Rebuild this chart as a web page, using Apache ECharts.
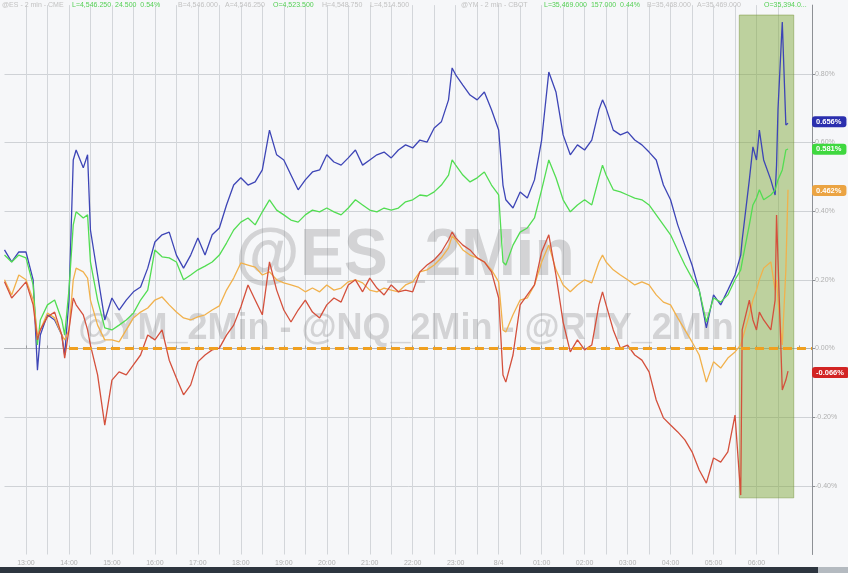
<!DOCTYPE html>
<html>
<head>
<meta charset="utf-8">
<script src="https://cdn.jsdelivr.net/npm/echarts@6/dist/echarts.min.js"></script>
<style>
html,body{margin:0;padding:0;background:#f6f7f9;}
#chart{width:848px;height:573px;}
</style>
</head>
<body>
<div id="chart"></div>
<script>
// minutes after 12:00 on 8/3
const times = [30,40,50,60,70,76,80,90,100,110,
114,120,126,130,140,146,150,160,170,180,
190,200,210,220,230,240,250,260,270,280,
290,300,310,320,330,340,350,360,370,380,
390,400,410,420,430,440,450,460,470,480,
490,500,510,520,530,540,550,560,570,580,
590,600,610,620,630,640,650,655,660,670,
680,690,700,710,720,726,730,740,750,760,
770,780,790,800,810,820,830,840,850,860,
865,870,880,890,900,910,920,930,940,950,
960,970,980,990,1000,1010,1020,1030,1040,1050,
1058,1060,1070,1075,1080,1084,1090,1100,1106,1108,
1110,1116,1121,1124];

const nqValues = [0.287,0.252,0.281,0.281,0.200,-0.063,0.039,0.098,0.083,0.039,
-0.019,0.141,0.549,0.578,0.526,0.564,0.345,0.214,0.083,0.147,
0.112,0.141,0.165,0.179,0.234,0.310,0.331,0.339,0.272,0.234,
0.272,0.322,0.272,0.331,0.351,0.418,0.476,0.497,0.476,0.485,
0.520,0.636,0.564,0.549,0.505,0.462,0.491,0.514,0.520,0.564,
0.543,0.534,0.555,0.578,0.534,0.549,0.564,0.572,0.555,0.578,
0.593,0.584,0.607,0.601,0.642,0.660,0.724,0.817,0.797,0.767,
0.738,0.724,0.747,0.695,0.636,0.476,0.433,0.409,0.456,0.438,
0.491,0.607,0.805,0.747,0.622,0.564,0.593,0.578,0.607,0.695,
0.724,0.700,0.636,0.622,0.631,0.607,0.593,0.572,0.549,0.476,
0.433,0.360,0.301,0.243,0.170,0.060,0.156,0.127,0.170,0.214,
0.272,0.316,0.491,0.587,0.549,0.636,0.549,0.491,0.447,0.534,
0.695,0.951,0.651,0.656];

const esValues = [0.272,0.252,0.272,0.264,0.185,0.010,0.083,0.127,0.141,0.083,
0.039,0.170,0.360,0.398,0.380,0.389,0.252,0.141,0.060,0.054,
0.068,0.083,0.103,0.141,0.170,0.287,0.267,0.264,0.252,0.200,
0.214,0.229,0.240,0.252,0.272,0.307,0.345,0.368,0.380,0.360,
0.398,0.433,0.403,0.389,0.374,0.368,0.389,0.403,0.398,0.409,
0.398,0.389,0.409,0.433,0.418,0.403,0.398,0.409,0.403,0.409,
0.427,0.433,0.447,0.444,0.456,0.476,0.505,0.549,0.534,0.505,
0.485,0.497,0.514,0.476,0.447,0.252,0.243,0.301,0.339,0.351,
0.380,0.462,0.549,0.497,0.433,0.398,0.418,0.433,0.418,0.497,
0.534,0.505,0.462,0.456,0.447,0.438,0.433,0.418,0.389,0.360,
0.331,0.287,0.243,0.205,0.170,0.077,0.147,0.135,0.156,0.200,
0.229,0.252,0.360,0.418,0.438,0.462,0.433,0.447,0.462,0.476,
0.491,0.520,0.578,0.581];

const ymValues = [0.200,0.156,0.214,0.200,0.141,0.039,0.054,0.103,0.089,0.039,
0.025,0.054,0.200,0.234,0.223,0.205,0.141,0.068,0.025,0.025,
0.019,0.054,0.089,0.106,0.118,0.141,0.150,0.127,0.106,0.089,
0.083,0.092,0.098,0.112,0.124,0.170,0.205,0.249,0.243,0.237,
0.214,0.223,0.200,0.191,0.185,0.179,0.165,0.176,0.165,0.185,
0.170,0.176,0.194,0.200,0.191,0.170,0.165,0.176,0.170,0.165,
0.185,0.194,0.223,0.229,0.243,0.264,0.293,0.328,0.316,0.287,
0.272,0.264,0.252,0.229,0.194,0.054,0.048,0.098,0.141,0.147,
0.185,0.252,0.301,0.229,0.185,0.165,0.185,0.200,0.191,0.252,
0.272,0.252,0.229,0.214,0.200,0.185,0.194,0.185,0.156,0.135,
0.127,0.089,0.054,0.019,-0.019,-0.098,-0.039,-0.057,-0.028,-0.010,
0.010,0.025,0.098,0.141,0.170,0.200,0.234,0.252,0.170,0.200,
0.141,0.010,0.229,0.462];

const rtyValues = [0.194,0.147,0.170,0.194,0.127,0.025,0.054,0.092,0.106,0.039,
-0.028,0.054,0.147,0.127,0.098,0.054,0.010,-0.077,-0.223,-0.092,
-0.068,-0.077,-0.048,-0.019,0.039,0.025,0.054,-0.034,-0.086,-0.135,
-0.106,-0.039,-0.019,-0.004,0.001,0.039,0.068,0.121,0.185,0.141,
0.098,0.252,0.170,0.112,0.077,0.112,0.141,0.106,0.089,0.127,
0.147,0.135,0.185,0.200,0.165,0.205,0.176,0.156,0.185,0.165,
0.170,0.165,0.223,0.243,0.258,0.281,0.316,0.339,0.322,0.301,
0.287,0.264,0.252,0.223,0.147,-0.077,-0.098,-0.019,0.127,0.156,
0.185,0.281,0.331,0.214,0.077,-0.010,0.025,-0.004,0.010,0.127,
0.165,0.127,0.054,0.001,0.010,-0.019,-0.034,-0.068,-0.150,-0.202,
-0.223,-0.243,-0.266,-0.301,-0.354,-0.392,-0.319,-0.331,-0.301,-0.194,
-0.427,0.054,0.141,0.083,0.054,0.106,0.083,0.054,0.141,0.389,
0.258,-0.121,-0.092,-0.066];

const zeroLineStart = 120;
const shadeRange = [1056, 1132];
const shadeValues = [0.971, -0.435];
const lastGridTime = 1110;

const chart = echarts.init(document.getElementById('chart'));

function mk(name, values, color, badge) {
  const last = values[values.length - 1];
  return {
    name: name, type: 'line', showSymbol: false, symbol: 'none',
    data: times.map((t, i) => [t, values[i]]),
    lineStyle: { color: color, width: 1.3 },
    z: 3,
    markLine: {
      silent: true, symbol: 'none',
      lineStyle: { color: 'rgba(0,0,0,0)', width: 1, type: 'solid' },
      data: [{ yAxis: last }],
      label: {
        show: true, position: 'end', distance: 0,
        formatter: last.toFixed(3) + '%',
        backgroundColor: badge, color: '#fff',
        fontSize: 7.5, fontWeight: 'bold', fontFamily: 'Liberation Sans',
        padding: [2, 5, 1, 4], borderRadius: 3
      }
    }
  };
}

const hdr = [
  ['@ES - 2 min - CME', 2, '#c2c2c2'],
  ['L=4,546.250  24.500  0.54%', 72, '#55d055'],
  ['B=4,546.000', 178, '#c2c2c2'],
  ['A=4,546.250', 225, '#c2c2c2'],
  ['O=4,523.500', 273, '#55d055'],
  ['H=4,548.750', 322, '#c2c2c2'],
  ['L=4,514.500', 370, '#c2c2c2'],
  ['@YM - 2 min - CBOT', 461, '#c2c2c2'],
  ['L=35,469.000  157.000  0.44%', 544, '#55d055'],
  ['B=35,468.000', 647, '#c2c2c2'],
  ['A=35,469.000', 697, '#c2c2c2'],
  ['O=35,394.0...', 764, '#55d055']
];

const graphics = [
  { type: 'text', x: 405, y: 224, z: 1, silent: true,
    style: { text: '@ES_2Min', textAlign: 'center', fill: 'rgba(130,130,130,0.30)', font: 'bold 66px "Liberation Sans"' } },
  { type: 'text', x: 406, y: 311, z: 1, silent: true,
    style: { text: '@YM_2Min - @NQ_2Min - @RTY_2Min', textAlign: 'center', fill: 'rgba(130,130,130,0.30)', font: 'bold 36px "Liberation Sans"' } },
  { type: 'rect', shape: { x: 0, y: 567, width: 818, height: 6 }, style: { fill: '#2d353f' }, z: 50 },
  { type: 'rect', shape: { x: 818, y: 567, width: 30, height: 6 }, style: { fill: '#b4bac0' }, z: 50 }
];
hdr.forEach(h => graphics.push({
  type: 'text', x: h[1], y: 2, z: 60, silent: true,
  style: { text: h[0], fill: h[2], font: '7px "Liberation Sans"' }
}));

const option = {
  backgroundColor: '#f6f7f9',
  animation: false,
  grid: [
    { left: 4.5, right: 36, top: 5.1, bottom: 18.5 },
    { left: 4.5, right: 70, top: 5.1, bottom: 18.5 }
  ],
  xAxis: [{
    type: 'value', min: 30, max: 1157.5, interval: 30,
    axisLine: { show: true, lineStyle: { color: '#b3b6ba' } },
    axisTick: { show: true, length: 3, inside: true, lineStyle: { color: '#9a9da1' } },
    splitLine: { show: false },
    axisLabel: {
      color: '#b0b0b0', fontSize: 7, margin: 5, fontFamily: 'Liberation Sans',
      showMinLabel: false, showMaxLabel: false,
      formatter: function (v) {
        const m = Math.round(v);
        if (m % 60 !== 0 || m > lastGridTime) return '';
        const h = (12 + m / 60) % 24;
        if (h === 0) return '8/4';
        return (h < 10 ? '0' : '') + h + ':00';
      }
    }
  }, {
    gridIndex: 1, type: 'value', min: 30, max: lastGridTime, interval: 30,
    axisLine: { show: false }, axisTick: { show: false }, axisLabel: { show: false },
    splitLine: { show: true, showMinLine: false, lineStyle: { color: '#d3d6da', width: 1 } }
  }],
  yAxis: [{
    type: 'value', position: 'right', min: -0.6, max: 1.0, interval: 0.2,
    axisLine: { show: true, lineStyle: { color: '#8d9095' } },
    axisTick: { show: true, length: 3, lineStyle: { color: '#8d9095' } },
    splitLine: { show: true, showMinLine: false, showMaxLine: false, lineStyle: { color: '#cfd2d6', width: 1 } },
    axisLabel: {
      color: '#b0b0b0', fontSize: 7, margin: 3, fontFamily: 'Liberation Sans',
      showMinLabel: false, showMaxLabel: false,
      formatter: v => v.toFixed(2) + '%'
    }
  }, {
    gridIndex: 1, type: 'value', min: -0.6, max: 1.0, show: false
  }],
  graphic: graphics,
  series: [
    mk('@NQ_2Min', nqValues, '#3d45b6', '#2b2fae'),
    mk('@ES_2Min', esValues, '#52dd52', '#3fd83f'),
    mk('@YM_2Min', ymValues, '#f1b14c', '#eba443'),
    mk('@RTY_2Min', rtyValues, '#d4503c', '#d22424'),
    {
      name: 'shade', type: 'line', data: [], z: 5,
      markArea: {
        silent: true,
        itemStyle: { color: 'rgba(128,168,58,0.48)', borderColor: 'rgba(120,150,60,0.5)', borderWidth: 1 },
        data: [[{ coord: [shadeRange[0], shadeValues[0]] }, { coord: [shadeRange[1], shadeValues[1]] }]]
      }
    },
    {
      name: 'zero', type: 'line', data: [], z: 6,
      markLine: {
        silent: true, symbol: 'none',
        lineStyle: { color: '#f0a020', width: 3, type: [9, 5] },
        label: { show: false },
        data: [[{ coord: [zeroLineStart, 0] }, { coord: [1157.5, 0] }]]
      }
    }
  ]
};
chart.setOption(option);
</script>
</body>
</html>
